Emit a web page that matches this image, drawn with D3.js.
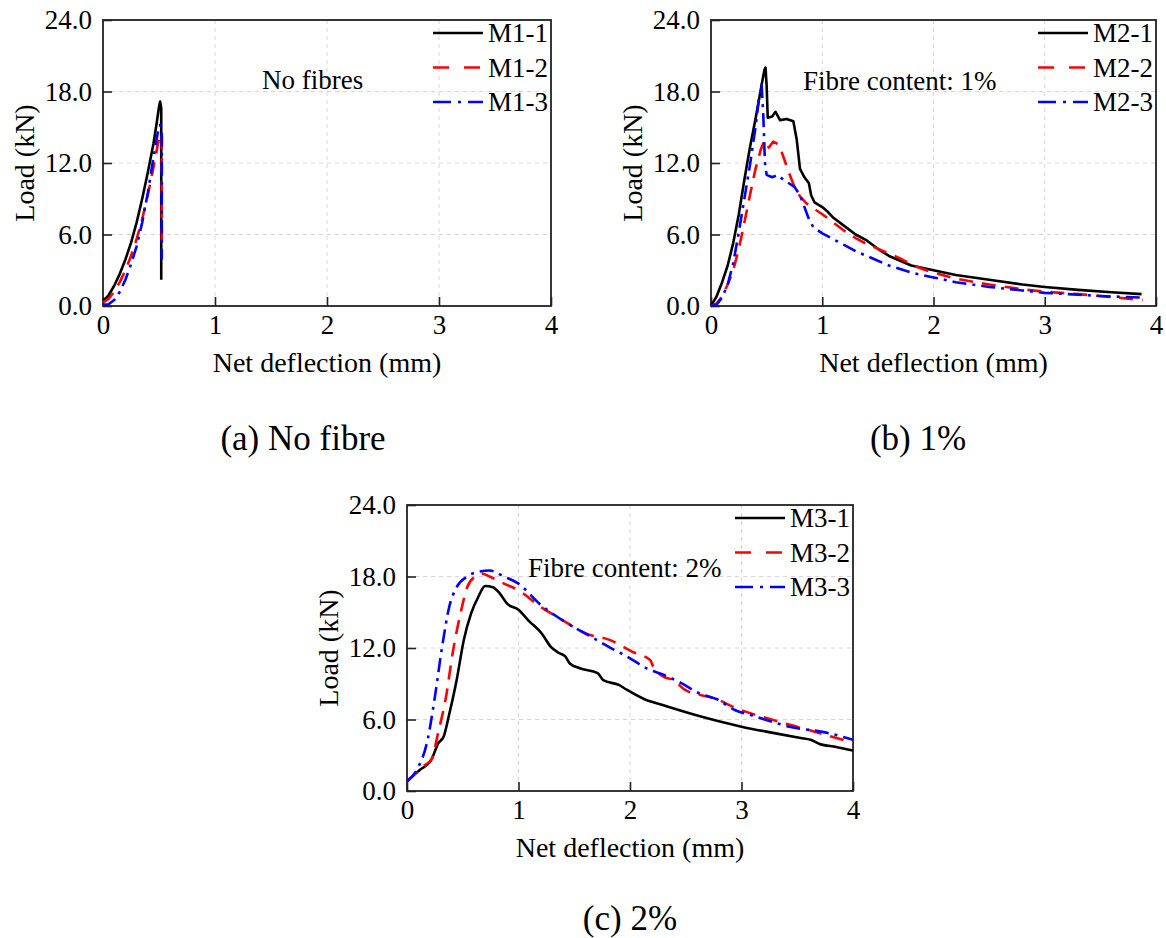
<!DOCTYPE html>
<html>
<head>
<meta charset="utf-8">
<script src="https://cdn.jsdelivr.net/npm/d3@7"></script>
<style>
  body { margin: 0; background: #fff; }
  svg text { font-family: "Liberation Serif", "Times New Roman", serif; fill: #000; }
</style>
</head>
<body>
<script>
// Load-deflection data: [net deflection (mm), load (kN)]
const m1_1 = [[0,0.4],[0.05,0.9],[0.1,1.7],[0.15,2.7],[0.2,3.9],[0.25,5.3],[0.3,7.0],[0.35,9.0],[0.4,11.2],[0.45,13.6],[0.48,15.4],[0.5,16.7],[0.51,17.15],[0.52,16.6],[0.52,2.2]];
const m1_2 = [[0,0.3],[0.05,0.6],[0.1,1.2],[0.15,2.0],[0.2,3.0],[0.25,4.2],[0.3,5.6],[0.35,7.3],[0.4,9.3],[0.45,11.6],[0.49,13.6],[0.515,14.5],[0.525,14.2],[0.525,5.5]];
const m1_3 = [[0,0.1],[0.05,0.15],[0.1,0.5],[0.15,1.2],[0.2,2.2],[0.25,3.5],[0.3,5.0],[0.35,7.0],[0.4,9.5],[0.45,12.4],[0.49,14.6],[0.51,15.2],[0.525,14.8],[0.525,3.9]];

const m2_1 = [[0,0],[0.05,0.8],[0.1,2.0],[0.15,3.4],[0.2,5.3],[0.25,7.7],[0.3,10.6],[0.35,13.3],[0.4,15.7],[0.45,18.3],[0.48,19.8],[0.49,20.0],[0.5,18.5],[0.51,15.8],[0.55,15.9],[0.58,16.3],[0.62,15.6],[0.68,15.7],[0.74,15.5],[0.77,14.0],[0.8,11.5],[0.84,10.8],[0.88,10.3],[0.9,9.3],[0.93,8.7],[1.0,8.3],[1.05,7.9],[1.1,7.4],[1.2,6.7],[1.3,6.0],[1.4,5.5],[1.5,4.8],[1.6,4.2],[1.7,3.8],[1.8,3.4],[2.0,3.0],[2.2,2.6],[2.5,2.2],[2.8,1.8],[3.0,1.6],[3.3,1.35],[3.6,1.15],[3.87,1.0]];
const m2_2 = [[0,0],[0.05,0.2],[0.1,0.8],[0.15,1.8],[0.2,3.0],[0.25,4.8],[0.3,7.0],[0.35,9.3],[0.4,11.5],[0.45,13.2],[0.48,13.9],[0.52,13.3],[0.56,13.8],[0.6,13.6],[0.64,12.8],[0.7,11.2],[0.75,10.0],[0.8,9.2],[0.86,8.6],[0.92,8.2],[1.0,7.7],[1.1,7.0],[1.2,6.3],[1.3,5.7],[1.4,5.2],[1.5,4.8],[1.6,4.4],[1.7,4.0],[1.8,3.5],[1.9,3.1],[2.0,2.8],[2.2,2.3],[2.5,1.8],[2.8,1.4],[3.0,1.2],[3.3,1.0],[3.6,0.75],[3.88,0.5]];
const m2_3 = [[0,0],[0.05,0.1],[0.1,0.7],[0.15,1.8],[0.2,3.6],[0.25,6.2],[0.3,9.0],[0.35,11.8],[0.4,15.0],[0.43,17.3],[0.455,18.6],[0.47,16.0],[0.485,12.0],[0.5,11.0],[0.55,10.8],[0.6,11.0],[0.65,10.6],[0.7,10.3],[0.75,10.0],[0.8,9.3],[0.84,8.3],[0.88,7.3],[0.92,6.6],[1.0,6.1],[1.1,5.6],[1.2,5.1],[1.3,4.6],[1.4,4.2],[1.5,3.8],[1.6,3.4],[1.7,3.1],[1.8,2.8],[2.0,2.4],[2.2,2.0],[2.5,1.6],[2.8,1.3],[3.0,1.1],[3.3,0.95],[3.6,0.8],[3.9,0.7]];

const m3_1 = [[0,0.85],[0.12,1.8],[0.22,2.65],[0.28,4.0],[0.33,4.6],[0.38,6.5],[0.445,9.3],[0.51,12.7],[0.575,14.9],[0.64,16.3],[0.7,17.2],[0.77,17.1],[0.83,16.6],[0.9,15.7],[1.0,15.2],[1.09,14.3],[1.21,13.2],[1.29,12.1],[1.36,11.6],[1.42,11.3],[1.46,10.7],[1.55,10.3],[1.71,9.9],[1.76,9.3],[1.9,8.9],[1.97,8.5],[2.13,7.7],[2.3,7.2],[2.62,6.3],[2.78,5.9],[3.0,5.4],[3.27,4.9],[3.53,4.45],[3.62,4.3],[3.7,3.95],[3.85,3.7],[4.0,3.4]];
const m3_2 = [[0,0.8],[0.15,2.1],[0.22,2.65],[0.28,4.9],[0.35,7.9],[0.41,11.6],[0.48,14.9],[0.54,17.1],[0.61,18.0],[0.67,18.25],[0.74,18.0],[0.87,17.4],[1.0,16.85],[1.19,15.5],[1.35,14.6],[1.61,13.2],[1.81,12.7],[2.04,11.6],[2.18,11.0],[2.21,10.4],[2.3,9.6],[2.39,9.3],[2.49,8.5],[2.78,7.7],[2.94,7.0],[3.27,6.0],[3.59,5.15],[4.0,4.05]];
const m3_3 = [[0,0.8],[0.09,1.8],[0.185,4.3],[0.25,7.9],[0.315,12.1],[0.38,15.5],[0.445,17.1],[0.54,18.0],[0.64,18.4],[0.74,18.5],[0.87,18.0],[1.0,17.4],[1.19,15.7],[1.39,14.35],[1.65,12.95],[1.81,12.1],[1.97,11.3],[2.17,10.2],[2.3,9.75],[2.46,9.05],[2.62,8.2],[2.78,7.7],[2.94,6.8],[3.11,6.3],[3.43,5.4],[3.76,4.9],[4.0,4.3]];

const xTicks = [0, 1, 2, 3, 4];
const yTicks = [0, 6, 12, 18, 24];
const seriesNames = [["M1-1","M1-2","M1-3"],["M2-1","M2-2","M2-3"],["M3-1","M3-2","M3-3"]];
const notes = ["No fibres", "Fibre content: 1%", "Fibre content: 2%"];
const captions = ["(a) No fibre", "(b) 1%", "(c) 2%"];

// line styles for the three specimens of each mix
const styles = [
  { color: "#000000", dash: null },
  { color: "#ff0000", dash: "14,9" },
  { color: "#0000ff", dash: "14,6,3,6" }
];

const panels = [
  { left: 103, top: 20, width: 448, height: 286, data: [m1_1, m1_2, m1_3], noteX: 159, noteY: 69, capX: 303, capY: 450, curve: d3.curveLinear },
  { left: 711, top: 20, width: 445, height: 286, data: [m2_1, m2_2, m2_3], noteX: 92, noteY: 70, capX: 918, capY: 450, curve: d3.curveLinear },
  { left: 407, top: 505, width: 446, height: 286, data: [m3_1, m3_2, m3_3], noteX: 121, noteY: 72, capX: 630, capY: 930, curve: d3.curveMonotoneX }
];

const svg = d3.select("body").append("svg")
  .attr("width", 1166)
  .attr("height", 938);

panels.forEach((p, k) => drawPanel(p, k));

function drawPanel(p, k) {
  let x = d3.scaleLinear().domain([0, 4]).range([0, p.width]);
  let y = d3.scaleLinear().domain([0, 24]).range([p.height, 0]);

  const g = svg.append("g")
    .attr("transform", `translate(${p.left},${p.top})`);

  // dashed grid
  g.append("g")
    .selectAll("line")
    .data(xTicks.slice(1, -1))
    .join("line")
    .attr("x1", d => x(d)).attr("x2", d => x(d))
    .attr("y1", 0).attr("y2", p.height)
    .attr("stroke", "#d6d6d6").attr("stroke-dasharray", "4,4");

  g.append("g")
    .selectAll("line")
    .data(yTicks.slice(1, -1))
    .join("line")
    .attr("x1", 0).attr("x2", p.width)
    .attr("y1", d => y(d)).attr("y2", d => y(d))
    .attr("stroke", "#d6d6d6").attr("stroke-dasharray", "4,4");

  let xAxis = g.append("g")
    .attr("transform", `translate(0,${p.height})`)
    .call(d3.axisBottom(x).tickValues(xTicks).tickFormat(d3.format("d")).tickSize(-9).tickPadding(9));

  let yAxis = g.append("g")
    .call(d3.axisLeft(y).tickValues(yTicks).tickFormat(d3.format(".1f")).tickSize(-9).tickPadding(11));

  [xAxis, yAxis].forEach(a => {
    a.select(".domain").remove();
    a.selectAll(".tick line").attr("stroke", "#222").attr("stroke-width", 1.6);
    a.selectAll(".tick text")
      .attr("font-family", "'Liberation Serif', 'Times New Roman', serif")
      .attr("font-size", 27)
      .attr("fill", "#000");
  });

  // frame
  g.append("rect")
    .attr("width", p.width)
    .attr("height", p.height)
    .attr("fill", "none")
    .attr("stroke", "#222")
    .attr("stroke-width", 1.8);

  let line = d3.line()
    .curve(p.curve)
    .x(d => x(d[0]))
    .y(d => y(d[1]));

  g.append("g")
    .selectAll("path")
    .data(p.data)
    .join("path")
    .attr("d", line)
    .attr("fill", "none")
    .attr("stroke", (d, i) => styles[i].color)
    .attr("stroke-width", 2.6)
    .attr("stroke-dasharray", (d, i) => styles[i].dash)
    .attr("stroke-linejoin", "round");

  // legend, top right inside the frame
  const legend = g.append("g")
    .selectAll("g")
    .data(seriesNames[k])
    .join("g")
    .attr("transform", (d, i) => `translate(${p.width - 118},${13 + i * 34.5})`);

  legend.append("line")
    .attr("x1", 0).attr("x2", 50)
    .attr("stroke", (d, i) => styles[i].color)
    .attr("stroke-width", 2.6)
    .attr("stroke-dasharray", (d, i) => styles[i].dash ? (i == 1 ? "16,15" : "18,7,3,7") : null);

  legend.append("text")
    .attr("x", 55)
    .attr("dy", "0.35em")
    .attr("font-size", 27)
    .text(d => d);

  g.append("text")
    .attr("x", p.noteX)
    .attr("y", p.noteY)
    .attr("font-size", 27)
    .text(notes[k]);

  g.append("text")
    .attr("x", p.width / 2)
    .attr("y", p.height + 66)
    .attr("text-anchor", "middle")
    .attr("font-size", 28)
    .text("Net deflection (mm)");

  g.append("text")
    .attr("transform", `translate(-69,${p.height / 2}) rotate(-90)`)
    .attr("text-anchor", "middle")
    .attr("font-size", 28)
    .text("Load (kN)");

  svg.append("text")
    .attr("x", p.capX)
    .attr("y", p.capY)
    .attr("text-anchor", "middle")
    .attr("font-size", 35)
    .text(captions[k]);
}
</script>
</body>
</html>
